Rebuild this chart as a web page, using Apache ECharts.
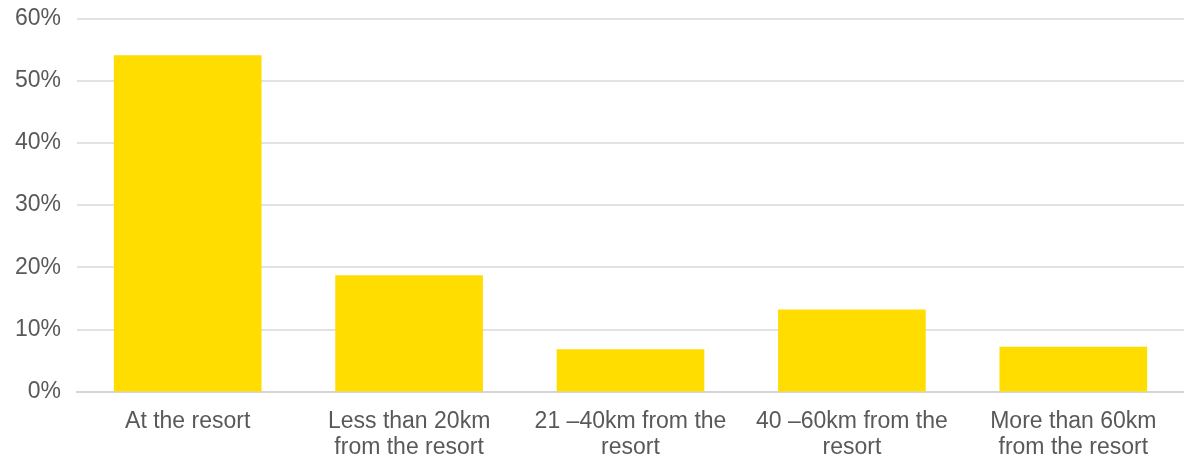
<!DOCTYPE html>
<html>
<head>
<meta charset="utf-8">
<script src="https://cdn.jsdelivr.net/npm/echarts@6/dist/echarts.min.js"></script>
<style>
  html, body { margin: 0; padding: 0; background: #ffffff; }
  #chart { width: 1184px; height: 461px; }
</style>
</head>
<body>
<div id="chart"></div>
<script>
// Where respondents stay, share of responses by distance from the resort
const categories = [
  'At the resort',
  'Less than 20km\nfrom the resort',
  '21 \u201340km from the\nresort',
  '40 \u201360km from the\nresort',
  'More than 60km\nfrom the resort'
];
const shares = [54.1, 18.7, 6.8, 13.2, 7.2];
const yTicks = { min: 0, max: 60, interval: 10 };

const textColor = '#595959';
const fontFamily = '"Liberation Sans", Arial, Helvetica, sans-serif';

const chart = echarts.init(document.getElementById('chart'), null, { renderer: 'canvas' });
chart.setOption({
  animation: false,
  grid: {
    left: 77, right: 0, top: 18.5, bottom: 69.5,
    containLabel: false,
    outerBoundsMode: 'none'
  },
  xAxis: {
    type: 'category',
    data: categories,
    axisLine: { show: true, lineStyle: { color: '#d4d4d4', width: 2 } },
    axisTick: { show: false },
    axisLabel: {
      color: textColor,
      fontFamily: fontFamily,
      fontSize: 23,
      lineHeight: 26,
      margin: 17,
      interval: 0
    }
  },
  yAxis: {
    type: 'value',
    min: yTicks.min,
    max: yTicks.max,
    interval: yTicks.interval,
    axisLine: { show: false },
    axisTick: { show: false },
    splitLine: { lineStyle: { color: '#d9d9d9', width: 1.5 } },
    axisLabel: {
      color: textColor,
      fontFamily: fontFamily,
      fontSize: 23,
      margin: 16,
      formatter: '{value}%'
    }
  },
  series: [{
    type: 'bar',
    data: shares,
    barCategoryGap: '33.3%',
    itemStyle: { color: '#FFDD00' }
  }]
});
</script>
</body>
</html>
